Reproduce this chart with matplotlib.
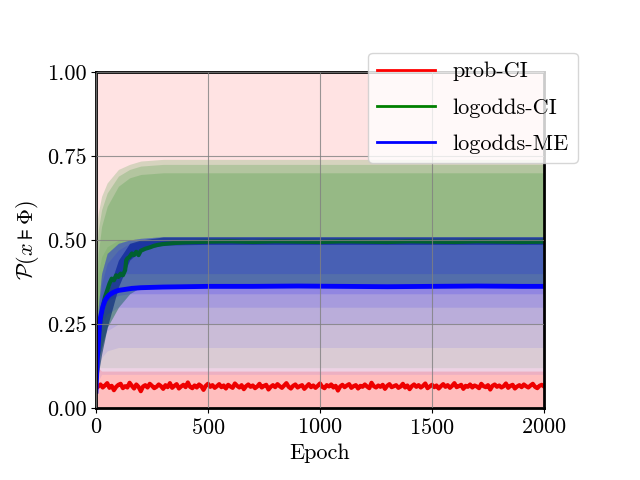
import numpy as np
import matplotlib
matplotlib.use("Agg")
import matplotlib.pyplot as plt

plt.rcParams['font.family'] = 'serif'
plt.rcParams['font.serif'] = ['cmr10', 'DejaVu Serif']
plt.rcParams['mathtext.fontset'] = 'cm'
plt.rcParams['axes.formatter.use_mathtext'] = True
plt.rcParams['font.size'] = 16

# ---- ensemble envelopes ----
band_epochs = [0, 10, 25, 50, 100, 150, 200, 300, 500, 1000, 1500, 2000]

# prob-CI runs: spread over everything, dense near the bottom
red_dense_hi = [0.12, 0.12, 0.11, 0.11, 0.11, 0.11, 0.11, 0.11, 0.11, 0.11, 0.11, 0.11]

# logodds-CI runs (nested layers, widest first)
green_faint_lo = [0.10, 0.12, 0.12, 0.12, 0.12, 0.12, 0.12, 0.12, 0.12, 0.12, 0.12, 0.12]
green_faint_hi = [0.30, 0.40, 0.45, 0.48, 0.50, 0.50, 0.50, 0.50, 0.50, 0.50, 0.50, 0.50]
green_lo = [0.10, 0.14, 0.18, 0.24, 0.30, 0.34, 0.36, 0.36, 0.36, 0.36, 0.36, 0.36]
green_hi_1 = [0.53, 0.58, 0.63, 0.67, 0.71, 0.725, 0.735, 0.74, 0.74, 0.74, 0.74, 0.74]
green_hi_2 = [0.45, 0.53, 0.59, 0.64, 0.69, 0.71, 0.72, 0.725, 0.725, 0.725, 0.725, 0.725]
green_hi_3 = [0.35, 0.46, 0.54, 0.60, 0.66, 0.685, 0.695, 0.70, 0.70, 0.70, 0.70, 0.70]
# runs piled up at the 0.5 ceiling
green_knot_lo = [0.06, 0.10, 0.16, 0.24, 0.36, 0.44, 0.47, 0.485, 0.487, 0.487, 0.487, 0.487]
green_knot_hi = [0.10, 0.18, 0.26, 0.34, 0.44, 0.49, 0.50, 0.509, 0.509, 0.509, 0.509, 0.509]

# logodds-ME runs: lower edges of nested layers, all reaching up to blue_hi
blue_hi = [0.14, 0.30, 0.40, 0.46, 0.49, 0.50, 0.505, 0.51, 0.51, 0.51, 0.51, 0.51]
blue_lo_1 = [0.05, 0.08, 0.10, 0.10, 0.10, 0.10, 0.10, 0.10, 0.10, 0.10, 0.10, 0.10]
blue_lo_2 = [0.05, 0.11, 0.15, 0.17, 0.18, 0.18, 0.18, 0.18, 0.18, 0.18, 0.18, 0.18]
blue_lo_3 = [0.06, 0.14, 0.20, 0.23, 0.25, 0.25, 0.25, 0.25, 0.25, 0.25, 0.25, 0.25]
blue_lo_4 = [0.07, 0.17, 0.25, 0.28, 0.30, 0.30, 0.30, 0.30, 0.30, 0.30, 0.30, 0.30]
blue_lo_5 = [0.08, 0.20, 0.29, 0.32, 0.335, 0.34, 0.34, 0.34, 0.34, 0.34, 0.34, 0.34]
blue_top_lo = [0.09, 0.22, 0.32, 0.37, 0.40, 0.40, 0.40, 0.40, 0.40, 0.40, 0.40, 0.40]
blue_top_hi = [0.12, 0.27, 0.37, 0.43, 0.47, 0.49, 0.495, 0.50, 0.50, 0.50, 0.50, 0.50]

# ---- mean curves ----
red_epochs = list(range(0, 2001, 10))
red_mean = [0.058, 0.064, 0.070, 0.061, 0.067, 0.074, 0.060, 0.066, 0.053, 0.063,
            0.069, 0.072, 0.059, 0.065, 0.061, 0.075, 0.066, 0.058, 0.070, 0.063,
            0.050, 0.064, 0.068, 0.061, 0.072, 0.066, 0.059, 0.063, 0.070, 0.065,
            0.057, 0.068, 0.062, 0.074, 0.060, 0.066, 0.071, 0.058, 0.064, 0.069,
            0.062, 0.076, 0.063, 0.059, 0.067, 0.061, 0.070, 0.065, 0.054, 0.066,
            0.072, 0.063, 0.068, 0.060, 0.065, 0.071, 0.062, 0.067, 0.058, 0.069,
            0.064, 0.060, 0.073, 0.066, 0.061, 0.068, 0.056, 0.065, 0.070, 0.063,
            0.067, 0.059, 0.064, 0.072, 0.061, 0.066, 0.069, 0.055, 0.063, 0.068,
            0.062, 0.071, 0.065, 0.060, 0.067, 0.074, 0.063, 0.058, 0.066, 0.070,
            0.061, 0.065, 0.068, 0.057, 0.064, 0.071, 0.062, 0.067, 0.060, 0.066,
            0.073, 0.063, 0.059, 0.068, 0.064, 0.070, 0.061, 0.066, 0.052, 0.064,
            0.069, 0.062, 0.067, 0.071, 0.060, 0.065, 0.068, 0.058, 0.066, 0.063,
            0.070, 0.064, 0.059, 0.075, 0.065, 0.061, 0.067, 0.063, 0.069, 0.057,
            0.066, 0.071, 0.062, 0.065, 0.068, 0.060, 0.064, 0.072, 0.061, 0.067,
            0.056, 0.065, 0.070, 0.063, 0.068, 0.061, 0.066, 0.073, 0.059, 0.064,
            0.069, 0.062, 0.067, 0.058, 0.065, 0.071, 0.063, 0.068, 0.060, 0.066,
            0.074, 0.062, 0.065, 0.069, 0.057, 0.066, 0.063, 0.070, 0.061, 0.067,
            0.064, 0.059, 0.072, 0.065, 0.062, 0.068, 0.055, 0.066, 0.070, 0.063,
            0.067, 0.061, 0.065, 0.073, 0.060, 0.066, 0.069, 0.058, 0.064, 0.068,
            0.062, 0.070, 0.065, 0.061, 0.067, 0.072, 0.063, 0.059, 0.066, 0.069,
            0.064]

green_epochs = [0, 5, 10, 20, 30, 40, 50, 60, 70, 80, 90, 100, 110, 120, 130, 135,
                140, 150, 160, 170, 180, 190, 200, 220, 240, 260, 280, 300, 350,
                400, 450, 500, 600, 700, 800, 900, 1000, 1100, 1200, 1300, 1400,
                1500, 1600, 1700, 1800, 1900, 2000]
green_mean = [0.10, 0.16, 0.21, 0.26, 0.30, 0.33, 0.35, 0.37, 0.385, 0.38, 0.395,
              0.39, 0.40, 0.395, 0.41, 0.44, 0.445, 0.45, 0.46, 0.455, 0.465,
              0.455, 0.468, 0.474, 0.478, 0.483, 0.486, 0.488, 0.491, 0.493,
              0.494, 0.495, 0.496, 0.494, 0.496, 0.495, 0.494, 0.496, 0.495,
              0.494, 0.496, 0.495, 0.494, 0.496, 0.495, 0.494, 0.495]

blue_epochs = [0, 3, 6, 10, 15, 20, 30, 40, 50, 60, 80, 100, 130, 160, 200, 300,
               400, 500, 700, 900, 1100, 1300, 1500, 1700, 1900, 2000]
blue_mean = [0.05, 0.10, 0.15, 0.19, 0.24, 0.27, 0.30, 0.32, 0.33, 0.337, 0.345,
             0.350, 0.353, 0.356, 0.358, 0.360, 0.361, 0.362, 0.362, 0.363, 0.362,
             0.361, 0.362, 0.363, 0.362, 0.362]

fig, ax = plt.subplots(figsize=(6.4, 4.8), dpi=100)
fig.subplots_adjust(left=0.15, right=0.85, bottom=0.15, top=0.85)

ones = [1.0] * len(band_epochs)
zeros = [0.0] * len(band_epochs)

# prob-CI runs
ax.fill_between(band_epochs, zeros, ones, color='red', alpha=0.11, lw=0)
ax.fill_between(band_epochs, zeros, red_dense_hi, color='red', alpha=0.16, lw=0)
ax.plot(red_epochs, red_mean, color='#ee0000', lw=3, label='prob-CI')

# logodds-CI runs
ax.fill_between(band_epochs, green_faint_lo, green_faint_hi, color='green', alpha=0.08, lw=0)
for hi in (green_hi_1, green_hi_2, green_hi_3):
    ax.fill_between(band_epochs, green_lo, hi, color='green', alpha=0.16, lw=0)
ax.plot(green_epochs, green_mean, color='#006030', lw=3, label='logodds-CI')
ax.fill_between(band_epochs, green_knot_lo, green_knot_hi, color='#003344', alpha=0.6, lw=0)

# logodds-ME runs
for lo, a in ((blue_lo_1, 0.07), (blue_lo_2, 0.07), (blue_lo_3, 0.08),
              (blue_lo_4, 0.10), (blue_lo_5, 0.13)):
    ax.fill_between(band_epochs, lo, blue_hi, color='blue', alpha=a, lw=0)
ax.fill_between(band_epochs, blue_top_lo, blue_top_hi, color='blue', alpha=0.12, lw=0)
ax.plot(blue_epochs, blue_mean, color='blue', lw=3.5, label='logodds-ME')

ax.set_xlim(0, 2000)
ax.set_ylim(0, 1)
ax.set_xticks([0, 500, 1000, 1500, 2000])
ax.set_yticks([0, 0.25, 0.5, 0.75, 1.0])
ax.set_yticklabels(['0.00', '0.25', '0.50', '0.75', '1.00'])
ax.grid(True, color='gray', lw=0.8, alpha=0.8)
ax.set_axisbelow(False)
for s in ax.spines.values():
    s.set_linewidth(2)

ax.set_xlabel('Epoch')
ax.set_ylabel(r'$\mathcal{P}(x \models \Phi)$')
leg = ax.legend(loc='upper right', bbox_to_anchor=(1.10, 1.09), fontsize=16,
                labelspacing=0.75, handlelength=2.6)
for h, c in zip(leg.legend_handles, ['red', 'green', 'blue']):
    h.set_linewidth(2)
    h.set_color(c)

fig.savefig('out.png', dpi=100)
